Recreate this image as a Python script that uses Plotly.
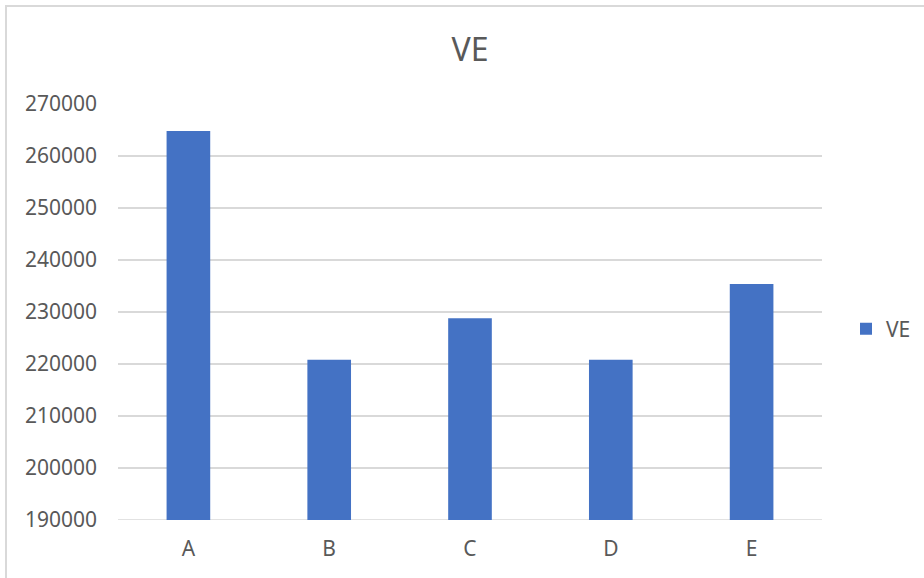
import plotly.graph_objects as go

# Chart data
categories = ["A", "B", "C", "D", "E"]
ve_values = [264800, 220800, 228800, 220800, 235400]
y_ticks = [190000, 200000, 210000, 220000, 230000, 240000, 250000, 260000, 270000]

W, H = 924, 578
ML, MR, MT, MB = 118, 102, 104, 58
plot_w = W - ML - MR
plot_h = H - MT - MB

def px_to_paper_x(px):
    return (px - ML) / plot_w

def px_to_paper_y(py):
    return (H - MB - py) / plot_h

text_color = "#595959"
grid_color = "#d9d9d9"
font_family = "Noto Sans, Open Sans, sans-serif"

fig = go.Figure()
fig.add_trace(go.Bar(
    x=categories,
    y=ve_values,
    name="VE",
    marker=dict(color="#4472C4", line=dict(width=0)),
    width=0.31,
))

fig.update_layout(
    width=W,
    height=H,
    margin=dict(l=ML, r=MR, t=MT, b=MB, autoexpand=False),
    paper_bgcolor="white",
    plot_bgcolor="white",
    font=dict(family=font_family, color=text_color, size=21),
    title=dict(
        text="VE",
        x=0.5 * (ML + W - MR) / W,
        xanchor="center",
        y=1 - 50 / H,
        yanchor="middle",
        font=dict(size=32, color=text_color, family=font_family),
    ),
    showlegend=True,
    legend=dict(
        x=px_to_paper_x(846),
        xanchor="left",
        y=px_to_paper_y(329),
        yanchor="middle",
        font=dict(size=21, color=text_color, family=font_family),
        bgcolor="rgba(0,0,0,0)",
    ),
    xaxis=dict(
        showgrid=False,
        showline=False,
        zeroline=False,
        ticks="",
        ticklabelstandoff=14,
        tickfont=dict(size=21, color=text_color),
    ),
    yaxis=dict(
        range=[190000, 270000],
        tickvals=y_ticks,
        ticktext=[str(v) for v in y_ticks],
        showgrid=True,
        gridcolor=grid_color,
        gridwidth=1.5,
        zeroline=False,
        showline=False,
        ticks="",
        ticklabelstandoff=20,
        tickfont=dict(size=21, color=text_color),
    ),
    shapes=[
        # 190000 baseline drawn as a gridline
        dict(type="line", xref="paper", yref="y", x0=0, x1=1,
             y0=190000, y1=190000, line=dict(color=grid_color, width=1.5),
             layer="below"),
        # chart-area border (extends past the right and bottom edges)
        dict(type="rect", xref="paper", yref="paper",
             x0=px_to_paper_x(6), x1=px_to_paper_x(940),
             y0=px_to_paper_y(600), y1=px_to_paper_y(6),
             line=dict(color=grid_color, width=2), fillcolor="rgba(0,0,0,0)",
             layer="below"),
    ],
)

fig.write_html("out.html")
